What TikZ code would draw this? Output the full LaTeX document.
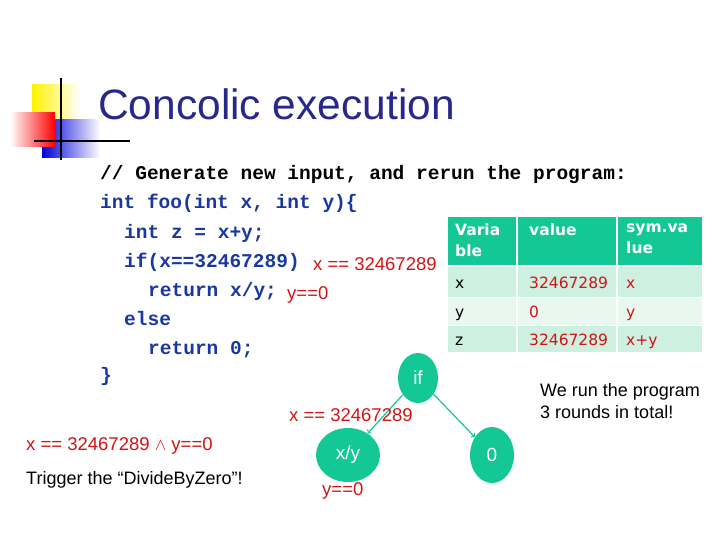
\documentclass[tikz,border=0pt]{standalone}
\usepackage{fontspec}
\setmainfont{Liberation Sans}
\setmonofont{Liberation Mono}
\newfontfamily\tabfont{DejaVu Sans}
\usetikzlibrary{shapes.geometric}
\definecolor{codeblue}{RGB}{25,55,160}
\definecolor{titleblue}{RGB}{40,40,140}
\definecolor{teal}{RGB}{20,200,150}
\definecolor{rowa}{RGB}{205,240,225}
\definecolor{rowb}{RGB}{232,248,240}
\definecolor{pred}{RGB}{210,20,20}
\tikzset{
  code/.style={anchor=base west, inner sep=0pt, font=\fontsize{19.5}{20}\ttfamily\bfseries, text=codeblue},
  cond/.style={anchor=base west, inner sep=0pt, font=\fontsize{18.5}{20}\selectfont, text=pred},
  cell/.style={anchor=base west, inner sep=0pt, font=\fontsize{15.5}{16}\tabfont},
  head/.style={anchor=north west, inner sep=0pt, align=left, text=white, font=\fontsize{15.5}{21}\tabfont\bfseries},
  treenode/.style={ellipse, fill=teal, text=white, inner sep=0pt, font=\fontsize{19}{20}\selectfont},
  plain/.style={anchor=base west, inner sep=0pt, font=\fontsize{18}{20}\selectfont}
}
\begin{document}
\begin{tikzpicture}[x=1pt, y=-1pt]
    \useasboundingbox (0,0) rectangle (720,540);
    % logo
    \shade[left color=yellow!90!orange, right color=white] (32,85) rectangle (80,120);
    \shade[left color=blue!85!black, right color=white] (42,120) rectangle (100,158);
    \shade[left color=white, right color=red] (10,113) rectangle (55,147);
    \draw[line width=2.5pt] (61,78) -- (61,160);
    \draw[line width=2.5pt] (34,141) -- (130,141);
    \node[anchor=base west, inner sep=0pt, font=\fontsize{42.5}{46}\selectfont, text=titleblue, name=title] at (98,120) {Concolic execution};
    % code
    \node[code, text=black, name=c0] at (100,180) {// Generate new input, and rerun the program:};
    \node[code, name=c1] at (100,209) {int foo(int x, int y)\{};
    \node[code, name=c2] at (124,238) {int z = x+y;};
    \node[code, name=c3] at (124,267) {if(x==32467289)};
    \node[code, name=c4] at (148,296) {return x/y;};
    \node[code, name=c5] at (124,325) {else};
    \node[code, name=c6] at (148,354) {return 0;};
    \node[code, name=c7] at (100,381) {\}};
    \node[cond, name=k3] at (313,270) {x == 32467289};
    \node[cond, name=k4] at (287,299) {y==0};
    % table
    \fill[teal] (448,217) rectangle (702,265);
    \fill[rowa] (448,267) rectangle (702,297);
    \fill[rowb] (448,298) rectangle (702,325);
    \fill[rowa] (448,326) rectangle (702,352);
    \foreach \xx in {517,617} \draw[white, line width=2pt] (\xx,217) -- (\xx,352);
    \foreach \yy in {266,297.5,325.5} \draw[white, line width=1.5pt] (448,\yy) -- (702,\yy);
    \node[head, name=h1] at (455,224) {Varia\\ble};
    \node[head, name=h2] at (529,224) {value};
    \node[head, name=h3] at (626,224) {sym.va\\lue};
    \node[cell, name=rx] at (455,288) {x};
    \node[cell, text=pred, name=vx] at (529,288) {32467289};
    \node[cell, text=pred, name=sx] at (626,288) {x};
    \node[cell, name=ry] at (455,317) {y};
    \node[cell, text=pred, name=vy] at (529,317) {0};
    \node[cell, text=pred, name=sy] at (626,317) {y};
    \node[cell, name=rz] at (455,345) {z};
    \node[cell, text=pred, name=vz] at (529,345) {32467289};
    \node[cell, text=pred, name=sz] at (626,345) {x+y};
    % tree
    \node[treenode, minimum width=40pt, minimum height=50pt, name=nif] at (418,378) {if};
    \node[treenode, minimum width=64pt, minimum height=54pt, name=ndiv] at (348,455) {x/y};
    \node[treenode, minimum width=44pt, minimum height=56pt, name=nzero] at (492,455) {0};
    \draw[->, teal, line width=1.2pt] (nif) -- (ndiv);
    \draw[->, teal, line width=1.2pt] (nif) -- (nzero);
    \node[cond, name=e1] at (289,421) {x == 32467289};
    \node[cond, name=e2] at (322,495) {y==0};
    \node[cond, name=pc] at (26,450) {x == 32467289 $\wedge$ y==0};
    \node[plain, name=trig] at (26,484) {Trigger the “DivideByZero”!};
    \node[plain, name=w1] at (540,396) {We run the program};
    \node[plain, name=w2] at (540,418) {3 rounds in total!};
\end{tikzpicture}
\end{document}
